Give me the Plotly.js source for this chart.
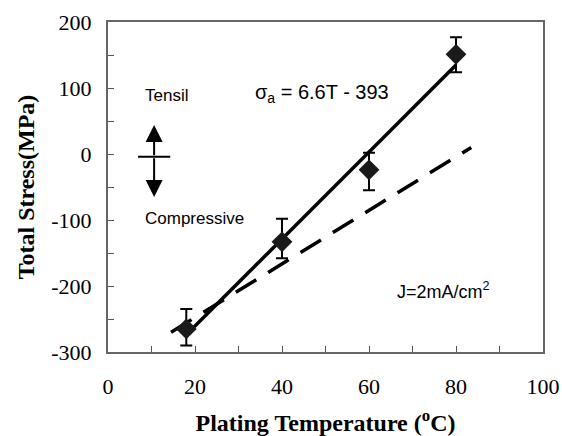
<!DOCTYPE html>
<html>
<head>
<meta charset="utf-8">
<script src="https://cdn.plot.ly/plotly-3.0.1.min.js"></script>
<style>html,body{margin:0;padding:0;background:#fff;}#chart{width:562px;height:436px;}</style>
</head>
<body>
<div id="chart"></div>
<script>
const temperature = [18, 40, 60, 80];
const totalStress = [-265, -133, -24, 151];
const errPlus = [30, 35, 26, 26];
const errMinus = [25, 25, 31, 27];

// Fitted solid line σa = 6.6T - 393
const fitT = [18, 80];
const fitStress = [-274, 135];

// Dashed reference line
const dashT = [14.5, 83.5];
const dashStress = [-270, 10];

// Axis tick labels
const xTicks = [0, 20, 40, 60, 80, 100];
const yTicks = [-300, -200, -100, 0, 100, 200];

// Symbol (tensile / compressive arrows)
const symX = 10.6;
const symTop = 44;
const symBottom = -65;
const symMid = -4;
const symBarX = [6.9, 14.3];

const traces = [
  {x: dashT, y: dashStress, mode: 'lines', type: 'scatter',
   line: {color: '#000', width: 3.5, dash: '24px,14px'}, hoverinfo: 'skip'},
  {x: fitT, y: fitStress, mode: 'lines', type: 'scatter',
   line: {color: '#000', width: 3.5}, hoverinfo: 'skip'},
  {x: temperature, y: totalStress, mode: 'markers', type: 'scatter',
   marker: {symbol: 'diamond', size: 16, color: '#1a1a1a'},
   error_y: {type: 'data', symmetric: false, array: errPlus, arrayminus: errMinus,
             color: '#000', thickness: 2, width: 6}}
];

const serif = 'Liberation Serif, Times New Roman, serif';
const sans = 'Liberation Sans, Arial, sans-serif';

const layout = {
  width: 562, height: 436,
  margin: {l: 108, r: 19, t: 22, b: 84},
  paper_bgcolor: '#fff', plot_bgcolor: '#fff',
  showlegend: false,
  xaxis: {
    range: [0, 100], tickvals: xTicks, ticktext: xTicks.map(String),
    ticks: 'inside', ticklen: 6, tickcolor: '#555', tickwidth: 1,
    minor: {dtick: 10, ticks: 'inside', ticklen: 6, tickcolor: '#555'},
    showline: true, linecolor: '#666', linewidth: 2, mirror: true,
    showgrid: false, zeroline: false, ticklabelstandoff: 14,
    tickfont: {family: serif, size: 22, color: '#000'},
    title: {text: 'Plating Temperature (<sup>o</sup>C)', standoff: 16,
            font: {family: serif, size: 24, color: '#000', weight: 'bold'}}
  },
  yaxis: {
    range: [-300, 200], tickvals: yTicks, ticktext: yTicks.map(String),
    ticks: 'inside', ticklen: 6, tickcolor: '#555', tickwidth: 1,
    minor: {dtick: 50, ticks: 'inside', ticklen: 6, tickcolor: '#555'},
    showline: true, linecolor: '#666', linewidth: 2, mirror: true,
    showgrid: false, zeroline: false, ticklabelstandoff: 10,
    tickfont: {family: serif, size: 22, color: '#000'},
    title: {text: 'Total Stress(MPa)', standoff: 10,
            font: {family: serif, size: 24, color: '#000', weight: 'bold'}}
  },
  shapes: [
    {type: 'line', xref: 'x', yref: 'y', x0: symBarX[0], x1: symBarX[1], y0: symMid, y1: symMid,
     line: {color: '#000', width: 2}}
  ],
  annotations: [
    {x: symX, y: symTop, ax: symX, ay: symMid, axref: 'x', ayref: 'y', xref: 'x', yref: 'y',
     text: '', showarrow: true, arrowhead: 2, arrowsize: 1.7, arrowwidth: 2, arrowcolor: '#000'},
    {x: symX, y: symBottom, ax: symX, ay: symMid, axref: 'x', ayref: 'y', xref: 'x', yref: 'y',
     text: '', showarrow: true, arrowhead: 2, arrowsize: 1.7, arrowwidth: 2, arrowcolor: '#000'},
    {x: 8, y: 88, xref: 'x', yref: 'y', xanchor: 'left', text: 'Tensil', showarrow: false,
     font: {family: sans, size: 17, color: '#000'}},
    {x: 8, y: -97, xref: 'x', yref: 'y', xanchor: 'left', text: 'Compressive', showarrow: false,
     font: {family: sans, size: 17, color: '#000'}},
    {x: 49.2, y: 92, xref: 'x', yref: 'y', xanchor: 'center', text: 'σ<sub>a</sub> = 6.6T - 393', showarrow: false,
     font: {family: sans, size: 20, color: '#000'}},
    {x: 66, y: -207, xref: 'x', yref: 'y', xanchor: 'left', text: 'J=2mA/cm<sup>2</sup>', showarrow: false,
     font: {family: sans, size: 18, color: '#000'}}
  ]
};

Plotly.newPlot('chart', traces, layout, {displayModeBar: false, staticPlot: true});
</script>
</body>
</html>
